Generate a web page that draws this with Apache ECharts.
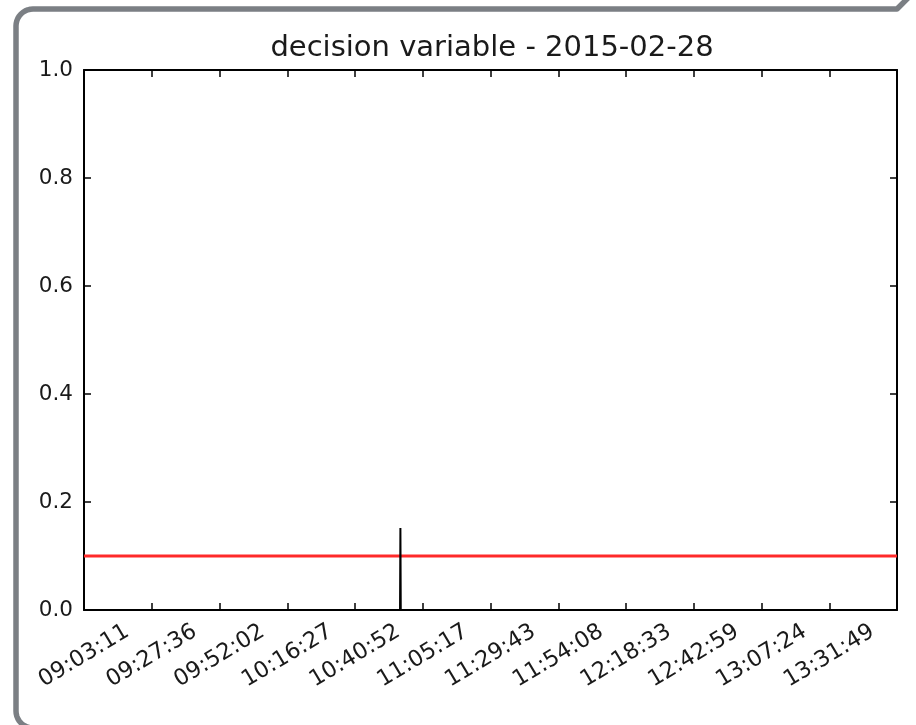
<!DOCTYPE html>
<html>
<head>
<meta charset="utf-8">
<script src="https://cdn.jsdelivr.net/npm/echarts@6/dist/echarts.min.js"></script>
<style>
html,body{margin:0;padding:0;background:#fff;}
#chart{width:916px;height:725px;}
</style>
</head>
<body>
<div id="chart"></div>
<script>
// ---- data ----
const titleText = 'decision variable - 2015-02-28';
const tickLabels = ['09:03:11','09:27:36','09:52:02','10:16:27','10:40:52','11:05:17','11:29:43','11:54:08','12:18:33','12:42:59','13:07:24','13:31:49'];
const xStart = '09:03:11';
const xEnd = '13:56:14';
const yTicks = [0.0, 0.2, 0.4, 0.6, 0.8, 1.0];
const decisionTimes = ['09:03:11','10:57:06','10:57:14','10:57:22','13:56:14'];
const decisionValues = [0, 0, 0.152, 0, 0];
const thresholdTimes = ['09:03:11','13:56:14'];
const thresholdValues = [0.1, 0.1];

function toSec(s){const p=s.split(':').map(Number);return p[0]*3600+p[1]*60+p[2];}
const tickSecs = tickLabels.map(toSec);
const labelMap = {};
tickSecs.forEach((v,i)=>{labelMap[v]=tickLabels[i];});

// decorative frame outline (rounded corners)
function arcPts(cx, cy, r, a0, a1, n){
  const pts=[];
  for(let i=0;i<=n;i++){const a=a0+(a1-a0)*i/n;pts.push([cx+r*Math.cos(a), cy+r*Math.sin(a)]);}
  return pts;
}
const framePts = [].concat(
  [[33,728]],
  arcPts(33,711,17,Math.PI/2,Math.PI,10),
  arcPts(33,26,17,Math.PI,1.5*Math.PI,10),
  [[897,9],[914,-8]]
);

const FONT = 'DejaVu Sans';
const chart = echarts.init(document.getElementById('chart'), null, {renderer:'canvas'});

const axisLineStyle = {color:'#000', width:2};
const option = {
  backgroundColor:'#fff',
  animation:false,
  title:{
    text:titleText, left:487, textAlign:'center', top:29,
    textStyle:{fontFamily:FONT, fontSize:29, fontWeight:'normal', color:'#1a1a1a'}
  },
  grid:{left:84, right:19, top:70, bottom:115, containLabel:false},
  xAxis:[
    {
      type:'value', position:'bottom', min:toSec(xStart), max:toSec(xEnd),
      axisLine:{show:true, onZero:false, lineStyle:axisLineStyle},
      axisTick:{show:true, inside:true, length:7, customValues:tickSecs, lineStyle:{color:'#000', width:1.5}},
      axisLabel:{show:true, customValues:tickSecs, rotate:31, align:'center', verticalAlign:'middle', margin:46,
        fontFamily:FONT, fontSize:22.5, color:'#1a1a1a', formatter:v=>labelMap[v]||''},
      splitLine:{show:false}
    },
    {
      type:'value', position:'top', min:toSec(xStart), max:toSec(xEnd),
      axisLine:{show:true, onZero:false, lineStyle:axisLineStyle},
      axisTick:{show:true, inside:true, length:7, customValues:tickSecs, lineStyle:{color:'#000', width:1.5}},
      axisLabel:{show:false},
      splitLine:{show:false}
    }
  ],
  yAxis:[
    {
      type:'value', position:'left', min:0, max:1, interval:0.2,
      axisLine:{show:true, onZero:false, lineStyle:axisLineStyle},
      axisTick:{show:true, inside:true, length:7, lineStyle:{color:'#000', width:1.5}},
      axisLabel:{show:true, margin:11, fontFamily:FONT, fontSize:21.5, color:'#1a1a1a', formatter:v=>v.toFixed(1)},
      splitLine:{show:false}
    },
    {
      type:'value', position:'right', min:0, max:1, interval:0.2,
      axisLine:{show:true, onZero:false, lineStyle:axisLineStyle},
      axisTick:{show:true, inside:true, length:7, lineStyle:{color:'#000', width:1.5}},
      axisLabel:{show:false},
      splitLine:{show:false}
    }
  ],
  series:[
    {
      type:'line', name:'threshold', xAxisIndex:0, yAxisIndex:0,
      data:thresholdTimes.map((t,i)=>[toSec(t), thresholdValues[i]]),
      showSymbol:false, symbol:'none',
      lineStyle:{color:'#ff2a2a', width:2.8}, z:2
    },
    {
      type:'line', name:'decision', xAxisIndex:0, yAxisIndex:0,
      data:decisionTimes.map((t,i)=>[toSec(t), decisionValues[i]]),
      showSymbol:false, symbol:'none',
      lineStyle:{color:'#000', width:2}, z:3
    }
  ],
  graphic:[
    {
      type:'polyline', z:100, silent:true,
      shape:{points:framePts},
      style:{fill:null, stroke:'#7b7f84', lineWidth:5.5, lineJoin:'round'}
    }
  ]
};
chart.setOption(option);
</script>
</body>
</html>
